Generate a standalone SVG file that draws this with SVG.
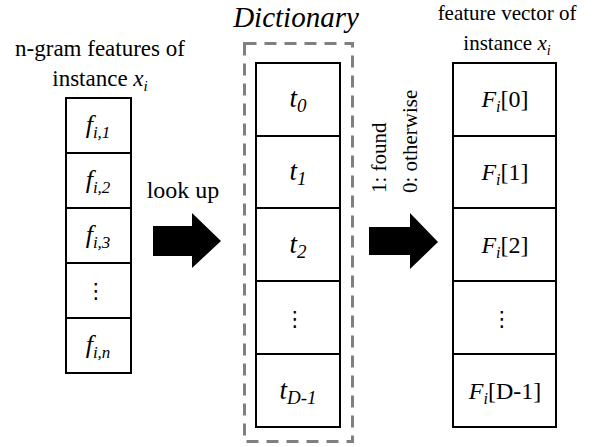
<svg xmlns="http://www.w3.org/2000/svg" width="598" height="447" viewBox="0 0 598 447">
<style>
.t{font-family:"Liberation Serif","Times New Roman",serif;fill:#000}
.i{font-style:italic}
.cell{fill:#fff;stroke:#000;stroke-width:2}
.dots{font-family:"DejaVu Serif","DejaVu Sans",serif;font-size:21px;text-anchor:middle}
.arrow{fill:#000}
</style>
<rect width="598" height="447" fill="#fff"/>
<g id="left-title">
<text class="t" x="100" y="56" font-size="23" text-anchor="middle">n-gram features of</text>
<text class="t" x="100" y="86" font-size="23" text-anchor="middle">instance <tspan class="i">x</tspan><tspan class="i" font-size="15" dy="5">i</tspan></text>
</g>
<g id="ngram-list">
<rect class="cell" x="66" y="98" width="65" height="55"/>
<rect class="cell" x="66" y="153" width="65" height="55"/>
<rect class="cell" x="66" y="208" width="65" height="55"/>
<rect class="cell" x="66" y="263" width="65" height="55"/>
<rect class="cell" x="66" y="318" width="65" height="55"/>
<text class="t i" x="98" y="133" font-size="26" text-anchor="middle">f<tspan font-size="17" dy="5">i,1</tspan></text>
<text class="t i" x="98" y="188" font-size="26" text-anchor="middle">f<tspan font-size="17" dy="5">i,2</tspan></text>
<text class="t i" x="98" y="243" font-size="26" text-anchor="middle">f<tspan font-size="17" dy="5">i,3</tspan></text>
<text class="dots" x="96" y="298">⋮</text>
<text class="t i" x="98" y="353" font-size="26" text-anchor="middle">f<tspan font-size="17" dy="5">i,n</tspan></text>
</g>
<g id="lookup">
<text class="t" x="183" y="198" font-size="24" text-anchor="middle">look up</text>
<polygon class="arrow" points="153,226 192,226 192,213 221,241 192,268 192,256 153,256"/>
</g>
<g id="dictionary">
<text class="t i" x="296" y="27" font-size="29" text-anchor="middle">Dictionary</text>
<rect x="244.5" y="43.5" width="108" height="398" fill="none" stroke="#808080" stroke-width="3" stroke-dasharray="12 8"/>
<rect class="cell" x="256" y="63" width="84" height="73"/>
<rect class="cell" x="256" y="136" width="84" height="72"/>
<rect class="cell" x="256" y="208" width="84" height="73"/>
<rect class="cell" x="256" y="281" width="84" height="73"/>
<rect class="cell" x="256" y="354" width="84" height="73"/>
<text class="t i" x="298" y="107" font-size="27" text-anchor="middle">t<tspan font-size="19" dy="5">0</tspan></text>
<text class="t i" x="298" y="180" font-size="27" text-anchor="middle">t<tspan font-size="19" dy="5">1</tspan></text>
<text class="t i" x="298" y="253" font-size="27" text-anchor="middle">t<tspan font-size="19" dy="5">2</tspan></text>
<text class="dots" x="295" y="326">⋮</text>
<text class="t i" x="298" y="399" font-size="27" text-anchor="middle">t<tspan font-size="19" dy="5">D-1</tspan></text>
</g>
<g id="found">
<text class="t" font-size="21" transform="translate(386,193) rotate(-90)">1: found</text>
<text class="t" font-size="21" transform="translate(417,193) rotate(-90)">0: otherwise</text>
<polygon class="arrow" points="369,227 410,227 410,213 438,242 410,269 410,255 369,255"/>
</g>
<g id="right-title">
<text class="t" x="507" y="20" font-size="21" text-anchor="middle">feature vector of</text>
<text class="t" x="507" y="50" font-size="21" text-anchor="middle">instance <tspan class="i">x</tspan><tspan class="i" font-size="14" dy="5">i</tspan></text>
</g>
<g id="feature-vector">
<rect class="cell" x="453" y="63" width="103" height="73"/>
<rect class="cell" x="453" y="136" width="103" height="72"/>
<rect class="cell" x="453" y="208" width="103" height="73"/>
<rect class="cell" x="453" y="281" width="103" height="73"/>
<rect class="cell" x="453" y="354" width="103" height="73"/>
<text class="t" x="505" y="107" font-size="24" text-anchor="middle"><tspan class="i">F</tspan><tspan class="i" font-size="16" dy="5">i</tspan><tspan dy="-5">[0]</tspan></text>
<text class="t" x="505" y="180" font-size="24" text-anchor="middle"><tspan class="i">F</tspan><tspan class="i" font-size="16" dy="5">i</tspan><tspan dy="-5">[1]</tspan></text>
<text class="t" x="505" y="253" font-size="24" text-anchor="middle"><tspan class="i">F</tspan><tspan class="i" font-size="16" dy="5">i</tspan><tspan dy="-5">[2]</tspan></text>
<text class="dots" x="502" y="326">⋮</text>
<text class="t" x="505" y="399" font-size="24" text-anchor="middle"><tspan class="i">F</tspan><tspan class="i" font-size="16" dy="5">i</tspan><tspan dy="-5">[D-1]</tspan></text>
</g>
</svg>
